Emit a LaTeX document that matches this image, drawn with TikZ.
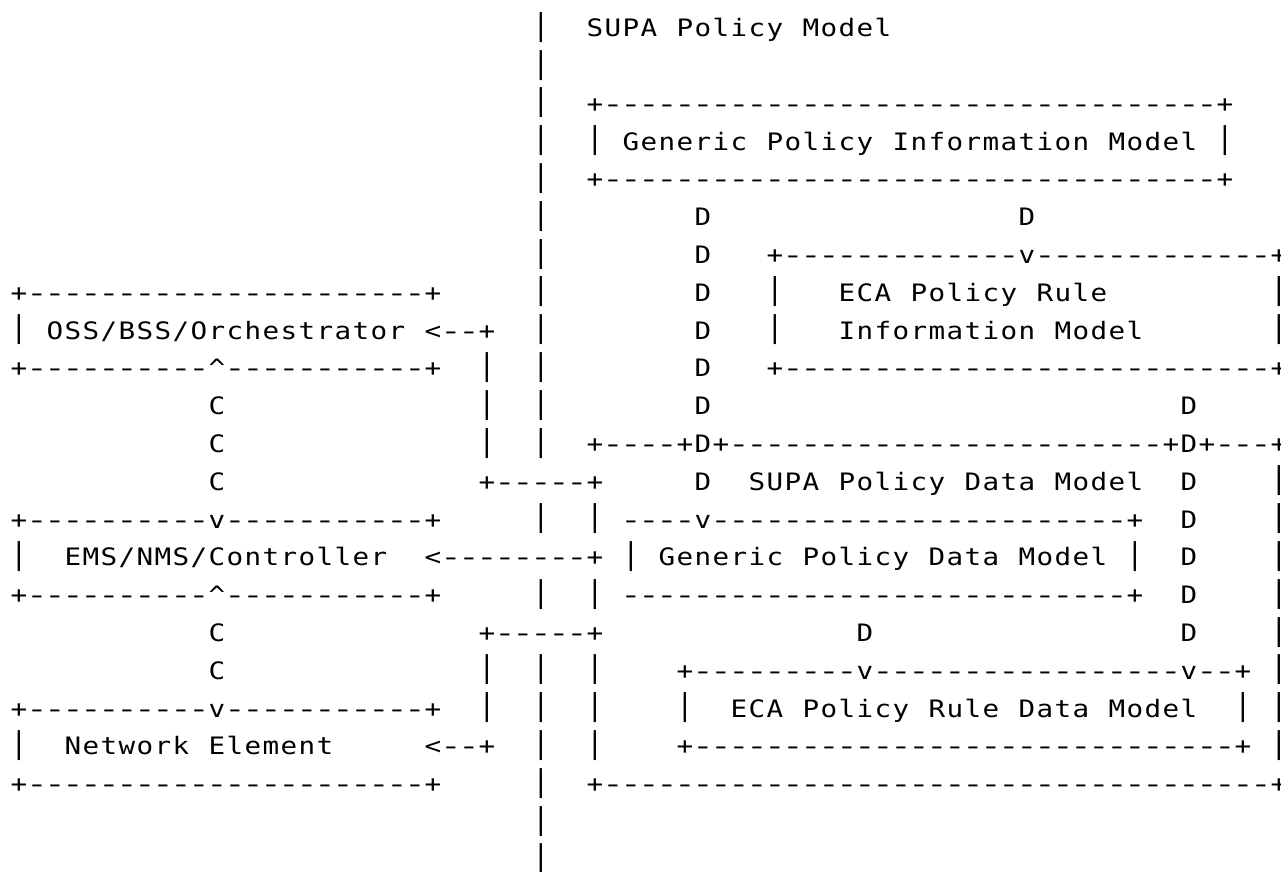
\documentclass[tikz,border=0pt]{standalone}
\usepackage{fontspec}
\newfontfamily\mono{DejaVu Sans Mono}
\ExplSyntaxOn
\cs_new:Npn \dsh #1 { \prg_replicate:nn {#1} {-} }
\ExplSyntaxOff
\protected\def\crt{\char"5E\relax}
\def\glyph#1{\ifx|#1\raisebox{1.1pt}{\scalebox{1.15}[1.25]{|}}\else\ifx-#1\scalebox{1.5}[1]{-}\else\scalebox{1.15}[1]{#1}\fi\fi}
\def\sprloop#1{\ifx\relax#1\else\makebox[13.5pt][c]{\glyph{#1}}\expandafter\sprloop\fi}
\tikzset{wd/.style={anchor=base west, inner sep=0pt, outer sep=0pt,
  font=\mono\fontsize{18pt}{21pt}\selectfont, text=black}}
\newcommand\W[3]{\edef\wtmp{#3}\node[wd] (w#1-#2) at ({10+18*#2},{834.3-37.8*#1}) {\expandafter\sprloop\wtmp\relax};}
\begin{document}
\begin{tikzpicture}[x=0.75pt,y=0.75pt]
\useasboundingbox (0,0) rectangle (1281,871);
\fill[white] (0,0) rectangle (1281,871);
\W{0}{29}{|}\W{0}{32}{SUPA}\W{0}{37}{Policy}\W{0}{44}{Model}
\W{1}{29}{|}
\W{2}{29}{|}\W{2}{32}{+\dsh{34}+}
\W{3}{29}{|}\W{3}{32}{|}\W{3}{34}{Generic}\W{3}{42}{Policy}\W{3}{49}{Information}\W{3}{61}{Model}\W{3}{67}{|}
\W{4}{29}{|}\W{4}{32}{+\dsh{34}+}
\W{5}{29}{|}\W{5}{38}{D}\W{5}{56}{D}
\W{6}{29}{|}\W{6}{38}{D}\W{6}{42}{+\dsh{13}v\dsh{13}+}
\W{7}{0}{+\dsh{22}+}\W{7}{29}{|}\W{7}{38}{D}\W{7}{42}{|}\W{7}{46}{ECA}\W{7}{50}{Policy}\W{7}{57}{Rule}\W{7}{70}{|}
\W{8}{0}{|}\W{8}{2}{OSS/BSS/Orchestrator}\W{8}{23}{<--+}\W{8}{29}{|}\W{8}{38}{D}\W{8}{42}{|}\W{8}{46}{Information}\W{8}{58}{Model}\W{8}{70}{|}
\W{9}{0}{+\dsh{10}\crt\dsh{11}+}\W{9}{26}{|}\W{9}{29}{|}\W{9}{38}{D}\W{9}{42}{+\dsh{27}+}
\W{10}{11}{C}\W{10}{26}{|}\W{10}{29}{|}\W{10}{38}{D}\W{10}{65}{D}
\W{11}{11}{C}\W{11}{26}{|}\W{11}{29}{|}\W{11}{32}{+----+D+\dsh{24}+D+---+}
\W{12}{11}{C}\W{12}{26}{+-----+}\W{12}{38}{D}\W{12}{41}{SUPA}\W{12}{46}{Policy}\W{12}{53}{Data}\W{12}{58}{Model}\W{12}{65}{D}\W{12}{70}{|}
\W{13}{0}{+\dsh{10}v\dsh{11}+}\W{13}{29}{|}\W{13}{32}{|}\W{13}{34}{----v\dsh{23}+}\W{13}{65}{D}\W{13}{70}{|}
\W{14}{0}{|}\W{14}{3}{EMS/NMS/Controller}\W{14}{23}{<\dsh{8}+}\W{14}{34}{|}\W{14}{36}{Generic}\W{14}{44}{Policy}\W{14}{51}{Data}\W{14}{56}{Model}\W{14}{62}{|}\W{14}{65}{D}\W{14}{70}{|}
\W{15}{0}{+\dsh{10}\crt\dsh{11}+}\W{15}{29}{|}\W{15}{32}{|}\W{15}{34}{\dsh{28}+}\W{15}{65}{D}\W{15}{70}{|}
\W{16}{11}{C}\W{16}{26}{+-----+}\W{16}{47}{D}\W{16}{65}{D}\W{16}{70}{|}
\W{17}{11}{C}\W{17}{26}{|}\W{17}{29}{|}\W{17}{32}{|}\W{17}{37}{+\dsh{9}v\dsh{17}v--+}\W{17}{70}{|}
\W{18}{0}{+\dsh{10}v\dsh{11}+}\W{18}{26}{|}\W{18}{29}{|}\W{18}{32}{|}\W{18}{37}{|}\W{18}{40}{ECA}\W{18}{44}{Policy}\W{18}{51}{Rule}\W{18}{56}{Data}\W{18}{61}{Model}\W{18}{68}{|}\W{18}{70}{|}
\W{19}{0}{|}\W{19}{3}{Network}\W{19}{11}{Element}\W{19}{23}{<--+}\W{19}{29}{|}\W{19}{32}{|}\W{19}{37}{+\dsh{30}+}\W{19}{70}{|}
\W{20}{0}{+\dsh{22}+}\W{20}{29}{|}\W{20}{32}{+\dsh{37}+}
\W{21}{29}{|}
\W{22}{29}{|}
\end{tikzpicture}
\end{document}
